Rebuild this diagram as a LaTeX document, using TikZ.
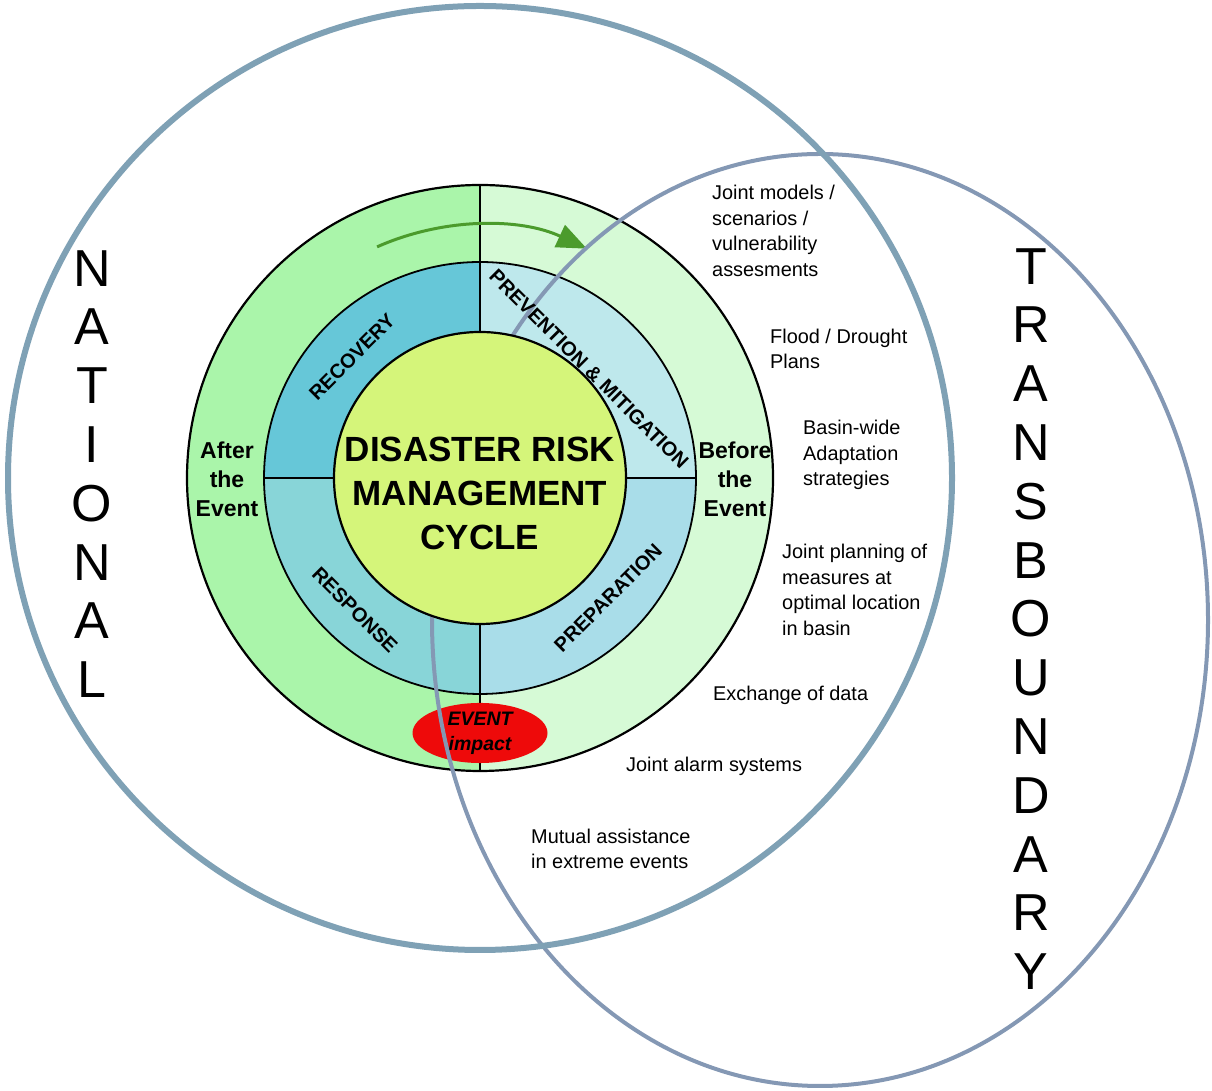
\documentclass[tikz,border=0pt]{standalone}
\usepackage{fontspec}
\setmainfont{Liberation Sans}
\usetikzlibrary{arrows.meta,shapes.geometric}
\definecolor{natline}{HTML}{7FA1B5}
\definecolor{transline}{HTML}{8498B4}
\definecolor{ringL}{HTML}{AAF5AA}
\definecolor{ringR}{HTML}{D6FAD6}
\definecolor{segRec}{HTML}{66C7D8}
\definecolor{segPrev}{HTML}{BEE8EC}
\definecolor{segPrep}{HTML}{A9DDE9}
\definecolor{segResp}{HTML}{88D5D8}
\definecolor{core}{HTML}{D5F57A}
\definecolor{arrowgreen}{HTML}{4B9B2C}
\definecolor{eventred}{HTML}{EE0A0A}
\begin{document}
\begin{tikzpicture}[x=1pt,y=1pt,
  bigletters/.style={font=\fontsize{52}{58.8}\selectfont, align=center, inner sep=0pt},
  sidenote/.style={font=\fontsize{19.9}{25.7}\selectfont, align=left, anchor=west, inner sep=0pt},
  phaselabel/.style={font=\bfseries\fontsize{20}{24}\selectfont, inner sep=0pt},
  timelabel/.style={font=\bfseries\fontsize{23}{29}\selectfont, align=center, inner sep=0pt},
  ringline/.style={black, line width=2.2pt},
  divline/.style={black, line width=1.5pt}]
\useasboundingbox (0,0) rectangle (1212,1091);
\coordinate (C) at (480,613);
% outer ring halves
\fill[ringL] (C) -- ++(90:293) arc[start angle=90,end angle=270,radius=293] -- cycle;
\fill[ringR] (C) -- ++(-90:293) arc[start angle=-90,end angle=90,radius=293] -- cycle;
% phase segments
\fill[segRec] (C) -- ++(90:216) arc[start angle=90,end angle=180,radius=216] -- cycle;
\fill[segPrev] (C) -- ++(0:216) arc[start angle=0,end angle=90,radius=216] -- cycle;
\fill[segPrep] (C) -- ++(-90:216) arc[start angle=-90,end angle=0,radius=216] -- cycle;
\fill[segResp] (C) -- ++(180:216) arc[start angle=180,end angle=270,radius=216] -- cycle;
% dividing lines
\coordinate (vt) at (480,906);
\coordinate (vb) at (480,320);
\coordinate (hl) at (264,613);
\coordinate (hr) at (696,613);
\draw[divline] (vt) -- (vb);
\draw[divline] (hl) -- (hr);
\draw[ringline] (C) circle[radius=293];
\draw[black, line width=1.8pt] (C) circle[radius=216];
% cycle arrow
\draw[arrowgreen, line width=3pt, -{Triangle[length=30pt,width=24pt]}]
  ([shift={(480,613)}]114:253) arc[start angle=114,end angle=65,radius=253];
% event
\node (event) [ellipse, fill=eventred, minimum width=135pt, minimum height=50pt, inner sep=0pt,
  font=\bfseries\itshape\fontsize{19.5}{25}\selectfont, align=center] at (480,358) {EVENT\\impact};
% transboundary ellipse
\draw[transline, line width=4pt] (820,471) ellipse[x radius=388, y radius=466];
% core
\draw[ringline, fill=core] (C) circle[radius=146];
\node (title) [font=\bfseries\fontsize{35}{44}\selectfont, align=center, inner sep=0pt] at (480,598)
  {DISASTER RISK\\MANAGEMENT\\CYCLE};
% phase labels
\node (recovery) [phaselabel, rotate=45] at (352,734) {RECOVERY};
\node (prevention) [phaselabel, rotate=-45] at (589,722) {PREVENTION \& MITIGATION};
\node (preparation) [phaselabel, rotate=45] at (608,493) {PREPARATION};
\node (response) [phaselabel, rotate=-45] at (355,481) {RESPONSE};
% time labels
\node (after) [timelabel] at (227,612) {After\\the\\Event};
\node (before) [timelabel] at (735,612) {Before\\the\\Event};
% side notes
\node (n1) [sidenote] at (712,860) {Joint models /\\scenarios /\\vulnerability\\assesments};
\node (n2) [sidenote] at (770,742) {Flood / Drought\\Plans};
\node (n3) [sidenote] at (803,636) {Basin-wide\\Adaptation\\strategies};
\node (n4) [sidenote] at (782,501) {Joint planning of\\measures at\\optimal location\\in basin};
\node (n5) [sidenote] at (713,396) {Exchange of data};
\node (n6) [sidenote] at (626,325) {Joint alarm systems};
\node (n7) [sidenote] at (531,242) {Mutual assistance\\in extreme events};
% big labels
\node (national) [bigletters] at (92,617) {N\\A\\T\\I\\O\\N\\A\\L};
\node (transboundary) [bigletters] at (1031,472) {T\\R\\A\\N\\S\\B\\O\\U\\N\\D\\A\\R\\Y};
% national circle
\draw[natline, line width=6pt] (C) circle[radius=472];
\end{tikzpicture}
\end{document}
